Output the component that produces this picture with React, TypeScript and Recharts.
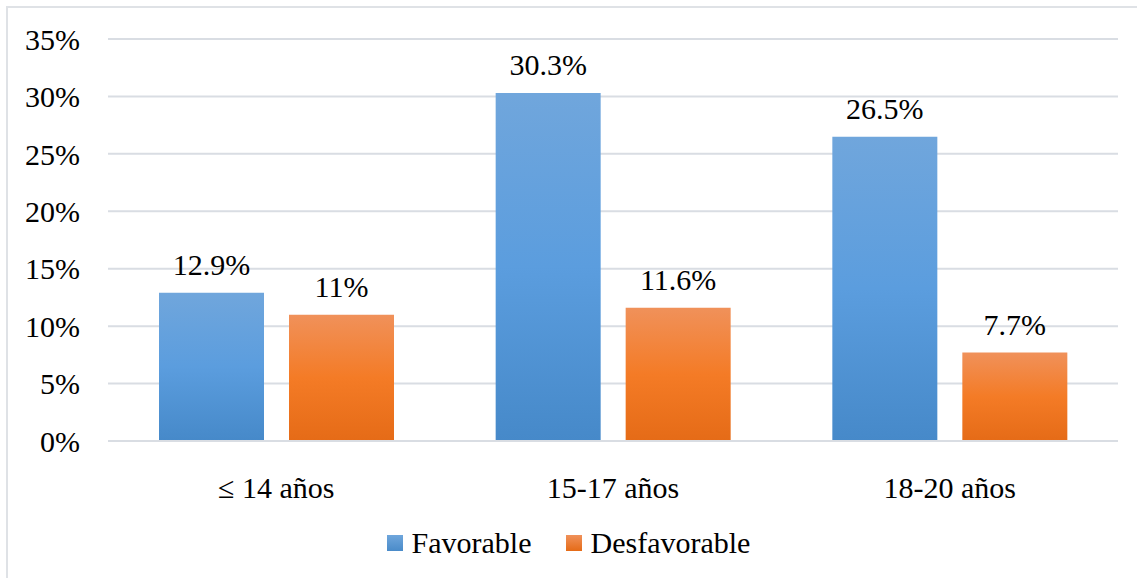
import React from 'react';
import { Bar, BarChart, CartesianGrid, LabelList, Legend, XAxis, YAxis } from 'recharts';

const categories = ['≤ 14 años', '15-17 años', '18-20 años'];
const favorable = [12.9, 30.3, 26.5];
const desfavorable = [11, 11.6, 7.7];
const yTicks = [0, 5, 10, 15, 20, 25, 30, 35];

const data = categories.map((name, i) => ({ name, favorable: favorable[i], desfavorable: desfavorable[i] }));

const font = "'Liberation Serif', 'DejaVu Serif', 'Noto Serif', serif";
const grid = '#d9dde3';

function LegendBox() {
  const item = (label: string, from: string, to: string) => (
    <span style={{ display: 'inline-flex', alignItems: 'center', margin: '0 17px' }}>
      <span style={{ width: 16, height: 16, marginRight: 9, background: `linear-gradient(${from}, ${to})` }} />
      <span>{label}</span>
    </span>
  );
  return (
    <div style={{ textAlign: 'center', fontFamily: font, fontSize: 30, color: '#000', lineHeight: '34px' }}>
      {item('Favorable', '#6fa6dc', '#4a8bc9')}
      {item('Desfavorable', '#f0915a', '#e56b17')}
    </div>
  );
}

export default function App() {
  return (
    <div style={{ position: 'absolute', left: 0, top: 0, width: 1137, height: 578, overflow: 'hidden', background: '#fff', fontFamily: font }}>
      <div style={{ position: 'absolute', left: 6, top: 6, width: 1150, height: 600, border: '2px solid #dfe2e6', boxSizing: 'border-box' }} />
      <div style={{ position: 'absolute', left: 0, top: 0 }}>
        <BarChart width={1137} height={578} data={data} margin={{ top: 39, right: 19, left: 0, bottom: 77 }} barSize={105} barGap={25} style={{ fontFamily: font }}>
          <defs>
            <linearGradient id="gBlue" x1="0" y1="0" x2="0" y2="1">
              <stop offset="0" stopColor="#70a6dc" />
              <stop offset="0.5" stopColor="#5b9dde" />
              <stop offset="1" stopColor="#4689c9" />
            </linearGradient>
            <linearGradient id="gOrange" x1="0" y1="0" x2="0" y2="1">
              <stop offset="0" stopColor="#f0915a" />
              <stop offset="0.5" stopColor="#f47b26" />
              <stop offset="1" stopColor="#e56b17" />
            </linearGradient>
          </defs>
          <CartesianGrid vertical={false} stroke={grid} strokeWidth={2} />
          <XAxis
            dataKey="name"
            height={60}
            tickLine={false}
            tickSize={0}
            tickMargin={36}
            axisLine={{ stroke: grid, strokeWidth: 2 }}
            tick={{ fontFamily: font, fontSize: 30, fill: '#000' }}
          />
          <YAxis
            width={108}
            domain={[0, 35]}
            ticks={yTicks}
            interval={0}
            axisLine={false}
            tickLine={false}
            tickSize={0}
            tickMargin={28}
            tickFormatter={(v) => `${v}%`}
            tick={{ fontFamily: font, fontSize: 30, fill: '#000' }}
          />
          <Legend
            layout="horizontal"
            verticalAlign="middle"
            align="center"
            wrapperStyle={{ top: 524, left: 0, width: 1137 }}
            content={() => <LegendBox />}
          />
          <Bar dataKey="favorable" name="Favorable" fill="url(#gBlue)" isAnimationActive={false}>
            <LabelList dataKey="favorable" position="top" offset={18} formatter={(v: any) => `${v}%`} style={{ fontFamily: font, fontSize: 30, fill: '#000' }} />
          </Bar>
          <Bar dataKey="desfavorable" name="Desfavorable" fill="url(#gOrange)" isAnimationActive={false}>
            <LabelList dataKey="desfavorable" position="top" offset={18} formatter={(v: any) => `${v}%`} style={{ fontFamily: font, fontSize: 30, fill: '#000' }} />
          </Bar>
        </BarChart>
      </div>
    </div>
  );
}
